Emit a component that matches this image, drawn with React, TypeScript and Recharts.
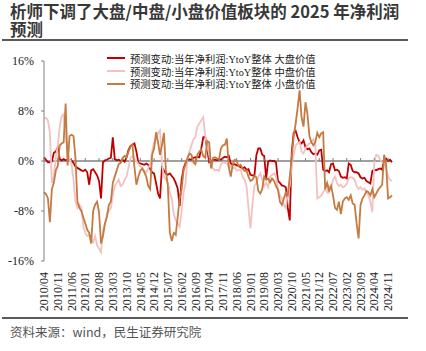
import { LineChart, Line, XAxis, YAxis, ReferenceLine } from 'recharts'

// monthly points, 2010/04 .. 2025/01
const START_YEAR = 2010
const START_MONTH = 4
const POINTS = 178

const months: string[] = Array.from({ length: POINTS }, (_, i) => {
  const m = START_MONTH - 1 + i
  return `${START_YEAR + Math.floor(m / 12)}/${String((m % 12) + 1).padStart(2, '0')}`
})

const tickLabels = [
  '2010/04', '2010/11', '2011/06', '2012/01', '2012/08', '2013/03', '2013/10',
  '2014/05', '2014/12', '2015/07', '2016/02', '2016/09', '2017/04', '2017/11',
  '2018/06', '2019/01', '2019/08', '2020/03', '2020/10', '2021/05', '2021/12',
  '2022/07', '2023/02', '2023/09', '2024/04', '2024/11',
]

const yTicks = [-16, -8, 0, 8, 16]

const titleLines = ['析师下调了大盘/中盘/小盘价值板块的 2025 年净利润', '预测']
const sourceText = '资料来源：wind，民生证券研究院'

const seriesNames = [
  '预测变动:当年净利润:YtoY整体 大盘价值',
  '预测变动:当年净利润:YtoY整体 中盘价值',
  '预测变动:当年净利润:YtoY整体 小盘价值',
]

// 大盘价值
const largeValue = [
  0.6, 0.2, -0.2, -0.2, -0.1, 1.3, 1.5, 2.2, 0.3, 0.1,
  0.3, 0.1, 0.2, 0.3, 0.1, -0.3, -0.9, -1.1, -1.3, -1.5,
  -1.6, -1.4, -1.8, -3.8, -1.5, -1.3, -1.8, -2.3, -3.2, -6.0,
  -0.2, 0.1, 0.2, 0.4, 0.5, 3.8, 0.3, 0.1, 0.2, 0.0,
  0.2, -0.1, 0.6, 1.8, 2.4, 2.6, 2.8, 1.5, -0.3, -0.4,
  -0.5, -0.6, -0.4, -0.6, -1.3, -1.8, -2.0, -3.5, -5.2, -6.0,
  -1.0, -1.5, -2.0, -2.2, -2.0, -2.4, -2.8, -3.5, -4.4, -7.2,
  -3.0, -1.2, -0.3, 0.1, 0.3, 0.2, 0.5, 0.6, 0.7, 0.6,
  2.0, 3.8, 3.9, 2.0, -0.2, 0.0, 0.2, 0.2, 0.1, 0.3,
  0.2, 0.5, 0.7, 0.6, 0.8, -0.4, -0.6, -0.5, -0.7, -0.8,
  -1.0, -1.2, -1.0, -1.4, -1.3, -2.2, -2.3, -2.4, 0.9, 2.0,
  2.0, 1.0, 0.8, -2.8, -0.1, 0.1, 0.0, 0.0, -0.2, -3.2,
  -3.5, -3.9, -4.0, -4.2, -7.5, -9.5, 1.4, 4.5, 4.8, 3.8,
  3.0, 2.8, 3.3, 2.2, 1.9, 2.0, 1.4, 1.1, 1.2, 1.0,
  1.7, 1.8, -1.4, -1.6, -1.5, -1.8, -0.5, -0.4, -1.5, -1.4,
  -1.6, -2.5, -2.7, -2.6, -2.8, -0.4, -0.6, -1.6, -1.8, -1.8,
  -2.0, -2.6, -2.8, -2.7, -3.2, -3.4, -3.6, -1.6, -1.4, -1.5,
  -1.3, -1.2, -1.4, 0.3, 0.4, 0.0, 0.2, -0.2,
]

// 中盘价值
const midValue = [
  6.8, 6.9, 6.5, 4.5, -3.5, -2.5, 0.5, 2.5, 5.5, 7.2,
  7.5, 4.0, 1.5, 0.3, -0.5, -3.0, -6.5, -7.5, -7.0, -7.5,
  -10.5, -11.5, -12.0, -11.8, -12.5, -13.0, -12.0, -13.5, -14.0, -14.6,
  -11.0, -10.0, -8.5, -8.0, -7.5, -5.5, -4.0, -3.5, -3.0, -4.0,
  -3.8, -3.0, -2.5, -1.0, 0.5, 0.8, 0.2, 0.0, -0.5, -0.8,
  -1.2, -1.5, -1.8, -1.2, -0.5, 1.5, 3.0, 3.5, 4.5, 4.9,
  -0.5, -2.5, -3.0, -3.5, -5.0, -6.0, -8.5, -9.5, -10.0, -10.5,
  -8.0, -5.0, -3.5, 0.5, 1.5, 2.5, 3.5, 3.8, 5.5, 6.0,
  6.5, 7.0, 4.0, 2.5, 1.0, -0.5, -1.2, -1.5, -1.4, -1.6,
  -0.5, -0.2, -0.3, -0.4, -1.0, -0.8, -1.2, -1.0, -1.5, -1.5,
  -1.3, -2.5, -3.0, -4.0, -7.5, -10.8, -7.0, -4.0, -3.5, -2.5,
  -2.0, -3.0, -4.0, -3.5, -4.2, -2.5, -2.2, -2.0, -2.5, -4.5,
  -5.5, -6.0, -7.0, -7.5, -5.0, -4.0, -0.5, 1.0, 2.5, 2.8,
  3.0, 1.5, 1.2, 2.0, 2.6, 2.8, 3.0, 3.5, 2.5, -6.0,
  -5.8, -5.5, -5.0, -4.5, -5.0, -4.0, -4.5, -3.0, -2.5, -3.5,
  -4.0, -3.8, -4.2, -4.0, -3.6, -2.8, -2.6, -2.7, -3.0, -4.0,
  -4.5, -4.2, -4.6, -4.4, -5.0, -5.5, -6.5, -8.2, 0.0, 1.0,
  0.8, 0.2, -0.2, -0.5, -1.2, -2.5, -3.0, -3.2,
]

// 小盘价值
const smallValue = [
  -5.0, -5.3, -6.0, -9.8, -4.5, -3.5, -1.5, -0.8, 2.5, 2.8,
  3.0, 9.2, -0.7, 4.0, 4.2, 4.0, 0.5, -6.5, -7.5, -8.0,
  -9.0, -10.0, -11.0, -11.5, -13.2, -8.0, -7.0, -6.5, -8.2, -13.2,
  -12.0, -10.0, -9.0, -7.0, -6.5, -3.5, -2.5, -1.5, -0.5, -0.3,
  0.5, 0.8, 0.6, 1.5, 2.3, 2.6, -1.0, -3.8, -2.5, -1.5,
  -1.2, -1.8, -2.5, -4.0, -4.5, 1.0, 2.0, 4.6, 3.0, 1.0,
  2.5, 4.5, -1.5, -4.0, -11.5, -12.8, -11.5, -11.8, -9.0, -6.0,
  -4.5, -1.5, -0.5, 0.5, 1.2, 1.0, -0.2, -0.5, 1.0, 1.5,
  1.8, 0.8, 0.5, 3.2, 3.0, -1.2, 0.5, 0.6, 0.4, 0.3,
  2.0, 2.5, 2.6, 3.6, -1.0, -2.5, -0.5, 0.2, 0.0, -0.8,
  -0.6, -1.2, -1.6, -1.5, -2.5, -3.2, -3.0, -2.4, -2.6, -4.8,
  -5.2, -4.5, -2.5, -3.0, -2.8, -3.4, -2.8, -3.2, -4.0, -4.6,
  -6.5, -7.0, -6.0, -5.0, -5.5, -2.5, 0.5, 4.0, 6.0, 8.5,
  11.3, 7.0, 5.5, 9.4, 7.5, 4.0, 3.0, 2.5, 3.0, 4.5,
  3.8, 4.4, 4.6, -4.5, -3.5, -4.8, -4.0, -5.5, -7.5, -7.8,
  -6.5, -8.5, -6.5, -6.0, -5.8, -6.2, -5.5, -6.8, -7.0, -10.0,
  -12.4, -7.0, -6.0, -5.5, -4.8, -5.0, -5.5, -4.5, -5.8, -5.2,
  -4.6, -4.2, -3.8, 1.0, -0.5, -6.0, -5.8, -5.5,
]

const colors = ['#C00000', '#F2C2C2', '#C47A40']
const keys = ['large', 'mid', 'small']

const data = months.map((m, i) => ({
  month: m,
  large: largeValue[i],
  mid: midValue[i],
  small: smallValue[i],
}))

const W = 426
const H = 351
const MARGIN = { top: 61, right: 34, bottom: 40, left: 0 }
const PLOT_H = 200
const ZERO_Y = MARGIN.top + PLOT_H / 2

const serif = "'Liberation Serif', 'Noto Sans CJK SC', serif"
const sans = "'Noto Sans CJK SC', 'Noto Sans', sans-serif"

function XTick({ x, y, payload }: any) {
  const ty = y + 11
  return (
    <g>
      <line x1={x} x2={x} y1={ZERO_Y} y2={ZERO_Y - 3} stroke="#808080" />
      <text
        x={x}
        y={ty}
        dy="0.35em"
        textAnchor="end"
        transform={`rotate(-90, ${x}, ${ty})`}
        fontFamily={serif}
        fontSize={12}
        fill="#222"
      >
        {payload.value}
      </text>
    </g>
  )
}

const titleStyle = {
  position: 'absolute' as const,
  left: 10,
  fontFamily: sans,
  fontWeight: 700,
  fontSize: 16.5,
  lineHeight: '17px',
  height: 17,
  color: '#383838',
  whiteSpace: 'nowrap' as const,
}

export default function App() {
  return (
    <div style={{ position: 'relative', width: W, height: H, background: '#fff', overflow: 'hidden' }}>
      <style>{'body{margin:0}'}</style>
      <div style={{ ...titleStyle, top: 3 }}>{titleLines[0]}</div>
      <div style={{ ...titleStyle, top: 21 }}>{titleLines[1]}</div>
      <div style={{ position: 'absolute', left: 2, top: 39, width: 406, height: 2, background: '#5a5a5a' }} />

      <div style={{ position: 'absolute', left: 0, top: 0 }}>
        <LineChart width={W} height={H} data={data} margin={MARGIN}>
          <XAxis
            dataKey="month"
            ticks={tickLabels}
            interval={0}
            axisLine={false}
            tickLine={false}
            tickSize={0}
            tickMargin={0}
            height={50}
            tick={<XTick />}
          />
          <YAxis
            domain={[-16, 16]}
            ticks={yTicks}
            width={44}
            tickFormatter={(v: number) => `${v}%`}
            axisLine={{ stroke: '#808080' }}
            tickLine={{ stroke: '#808080' }}
            tickSize={3}
            tickMargin={7}
            tick={{ fontFamily: serif, fontSize: 12, fill: '#222' }}
          />
          <ReferenceLine y={0} stroke="#808080" strokeWidth={1.5} />
          {keys.map((k, i) => (
            <Line
              key={k}
              type="linear"
              dataKey={k}
              name={seriesNames[i]}
              stroke={colors[i]}
              strokeWidth={1.8}
              dot={false}
              isAnimationActive={false}
            />
          ))}
        </LineChart>
      </div>

      <div style={{ position: 'absolute', left: 107, top: 52, fontFamily: serif, fontSize: 10.3, color: '#222' }}>
        {seriesNames.map((n, i) => (
          <div key={n} style={{ display: 'flex', alignItems: 'center', height: 12.7 }}>
            <span style={{ display: 'inline-block', width: 18, height: 2, background: colors[i], marginRight: 5 }} />
            <span style={{ whiteSpace: 'nowrap' }}>{n}</span>
          </div>
        ))}
      </div>

      <div style={{ position: 'absolute', left: 2, top: 317, width: 406, height: 2, background: '#5a5a5a' }} />
      <div
        style={{
          position: 'absolute',
          left: 10,
          top: 322,
          fontFamily: sans,
          fontSize: 12.5,
          color: '#555',
          whiteSpace: 'nowrap',
        }}
      >
        {sourceText}
      </div>
    </div>
  )
}
